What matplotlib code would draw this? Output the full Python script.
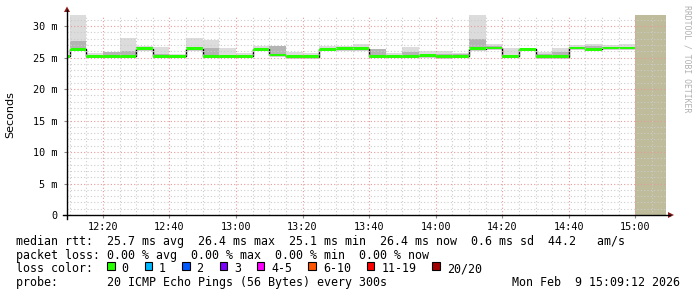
import matplotlib
matplotlib.use("Agg")
import matplotlib.pyplot as plt
from matplotlib.lines import Line2D
from matplotlib.patches import Polygon, Rectangle

# ---------------- data ----------------
bin_starts = ["12:05", "12:10", "12:15", "12:20", "12:25", "12:30", "12:35", "12:40",
              "12:45", "12:50", "12:55", "13:00", "13:05", "13:10", "13:15", "13:20",
              "13:25", "13:30", "13:35", "13:40", "13:45", "13:50", "13:55", "14:00",
              "14:05", "14:10", "14:15", "14:20", "14:25", "14:30", "14:35", "14:40",
              "14:45", "14:50", "14:55"]
median_ms = [25.2, 26.3, 25.2, 25.2, 25.2, 26.4, 25.2, 25.2,
             26.4, 25.2, 25.2, 25.2, 26.3, 25.4, 25.1, 25.1,
             26.3, 26.4, 26.4, 25.2, 25.2, 25.2, 25.3, 25.1,
             25.2, 26.4, 26.5, 25.2, 26.3, 25.1, 25.1, 26.5,
             26.3, 26.5, 26.5]
smoke_mid_ms = [25.3, 27.7, 25.3, 25.8, 26.1, 26.6, 25.6, 25.4,
                26.6, 26.5, 25.4, 25.3, 26.5, 26.9, 25.4, 25.4,
                26.5, 26.5, 26.6, 26.3, 25.3, 25.9, 25.6, 25.5,
                25.5, 27.9, 26.8, 25.4, 26.3, 25.5, 25.8, 26.7,
                26.8, 26.7, 26.7]
smoke_max_ms = [25.4, 33.0, 25.7, 25.9, 28.1, 26.8, 26.7, 25.6,
                28.1, 27.8, 26.5, 25.7, 26.9, 26.9, 25.8, 25.7,
                26.9, 26.8, 27.1, 26.3, 25.7, 26.7, 26.0, 26.0,
                25.7, 33.0, 27.2, 26.5, 26.4, 25.8, 26.5, 27.0,
                27.2, 27.0, 27.1]
bin_minutes = 5
unknown_start = "15:00"
x_start = "12:09:12"
x_end = "15:09:12"

y_ticks = [0, 5, 10, 15, 20, 25, 30]
y_tick_labels = ["0", "5 m", "10 m", "15 m", "20 m", "25 m", "30 m"]
x_tick_labels = ["12:20", "12:40", "13:00", "13:20", "13:40", "14:00", "14:20", "14:40", "15:00"]

loss_labels = ["0", "1", "2", "3", "4-5", "6-10", "11-19", "20/20"]
loss_colors = ["#26ff00", "#00b8ff", "#0059ff", "#7e00ff", "#ff00ff", "#ff5500", "#ff0000", "#a10000"]

line_rtt = "median rtt:  25.7 ms avg  26.4 ms max  25.1 ms min  26.4 ms now  0.6 ms sd  44.2   am/s"
line_loss = "packet loss: 0.00 % avg  0.00 % max  0.00 % min  0.00 % now"
line_color_head = "loss color:"
line_probe = "probe:       20 ICMP Echo Pings (56 Bytes) every 300s"
date_text = "Mon Feb  9 15:09:12 2026"
watermark = "RRDTOOL / TOBI OETIKER"
y_label = "Seconds"


def tmin(s):
    p = [int(v) for v in s.split(":")]
    m = p[0] * 60 + p[1]
    if len(p) > 2:
        m += p[2] / 60.0
    return m


# ---------------- figure ----------------
W, H = 697, 297
fig = plt.figure(figsize=(W / 100, H / 100), dpi=100)
fig.patch.set_facecolor("white")


def fx(x):
    return x / W


def fy(y):
    return 1 - y / H


ax_l, ax_r, ax_t, ax_b = 67, 666, 14.7, 215
ax = fig.add_axes([fx(ax_l), fy(ax_b), (ax_r - ax_l) / W, (ax_b - ax_t) / H])
ax.set_facecolor("white")
x0, x1 = tmin(x_start), tmin(x_end)
ax.set_xlim(x0, x1)
ax.set_ylim(0, 31.8)
for s in ax.spines.values():
    s.set_visible(False)

edges = [tmin(b) for b in bin_starts] + [tmin(bin_starts[-1]) + bin_minutes]

# smoke
ax.stairs(smoke_max_ms, edges, baseline=median_ms, fill=True, color="#dcdcdc", lw=0, zorder=2)
ax.stairs(smoke_mid_ms, edges, baseline=median_ms, fill=True, color="#b4b4b4", lw=0, zorder=3)

# median
band_lo = [m - 0.2 for m in median_ms]
band_hi = [m + 0.23 for m in median_ms]
ax.stairs(median_ms, edges, baseline=None, color="black", lw=1.0, zorder=4)
ax.stairs(band_hi, edges, baseline=band_lo, fill=True, color=loss_colors[0], lw=0, zorder=5)

# unknown area
ax.axvspan(tmin(unknown_start), x1, color="#bfbc9b", lw=0, zorder=6)

# grid
minor_x = [m for m in range(int(x0) + 1, int(x1) + 1) if m % 5 == 0]
major_x = [tmin(t) for t in x_tick_labels]
for m in minor_x:
    if m in major_x:
        continue
    ax.axvline(m, color="#cccccc", lw=0.8, ls=(0, (1, 2)), zorder=7)
for m in major_x:
    ax.axvline(m, color="#e89a9a", lw=0.8, ls=(0, (1, 2)), zorder=7)
for v in range(1, 32):
    if v % 5 == 0:
        ax.axhline(v, color="#e89a9a", lw=0.8, ls=(0, (1, 2)), zorder=7)
    else:
        ax.axhline(v, color="#cccccc", lw=0.8, ls=(0, (1, 2)), zorder=7)

ax.set_yticks(y_ticks)
ax.set_yticklabels(y_tick_labels)
ax.set_xticks(major_x)
ax.set_xticklabels(x_tick_labels)
ax.tick_params(axis="y", length=2, width=0.8, pad=5, labelsize=7.3, color="#888888")
ax.tick_params(axis="x", length=2, width=0.8, pad=3, labelsize=7.3, color="#888888")
for lab in ax.get_xticklabels() + ax.get_yticklabels():
    lab.set_family("DejaVu Sans Mono")

# axes lines with arrows
fig.add_artist(Line2D([fx(63), fx(670)], [fy(215), fy(215)], color="black", lw=1.0))
fig.add_artist(Line2D([fx(67), fx(67)], [fy(219), fy(10)], color="black", lw=1.0))
fig.add_artist(Polygon([[fx(668), fy(212)], [fx(674), fy(215)], [fx(668), fy(218)]],
                       closed=True, color="#8b1a1a", lw=0))
fig.add_artist(Polygon([[fx(64), fy(12)], [fx(67), fy(6.5)], [fx(70), fy(12)]],
                       closed=True, color="#8b1a1a", lw=0))

# labels
fig.text(fx(10.5), fy(115), y_label, rotation=90, ha="center", va="center",
         fontsize=8, family="DejaVu Sans")
fig.text(fx(687), fy(5), watermark, rotation=270, ha="center", va="top",
         fontsize=5.9, family="DejaVu Sans Mono", color="#b0b0b0")

mono = dict(family="DejaVu Sans Mono", fontsize=8.4, va="center", ha="left")
cw = 7.02
lx = 16
fig.text(fx(lx), fy(241), line_rtt, **mono)
fig.text(fx(lx), fy(255), line_loss, **mono)
fig.text(fx(lx), fy(268.5), line_color_head, **mono)
fig.text(fx(lx), fy(282.5), line_probe, **mono)
fig.text(fx(680), fy(282.5), date_text, family="DejaVu Sans Mono", fontsize=8.4,
         va="center", ha="right")

bx = lx + 13 * cw
for lab, col in zip(loss_labels, loss_colors):
    fig.add_artist(Rectangle((fx(bx), fy(269.5)), 7.5 / W, 7.5 / H, facecolor=col,
                             edgecolor="black", lw=0.8))
    tx = bx + 14.4
    fig.text(fx(tx), fy(268.5), lab, **mono)
    bx = tx + len(lab) * cw + 16

fig.savefig("out.png", dpi=100)
